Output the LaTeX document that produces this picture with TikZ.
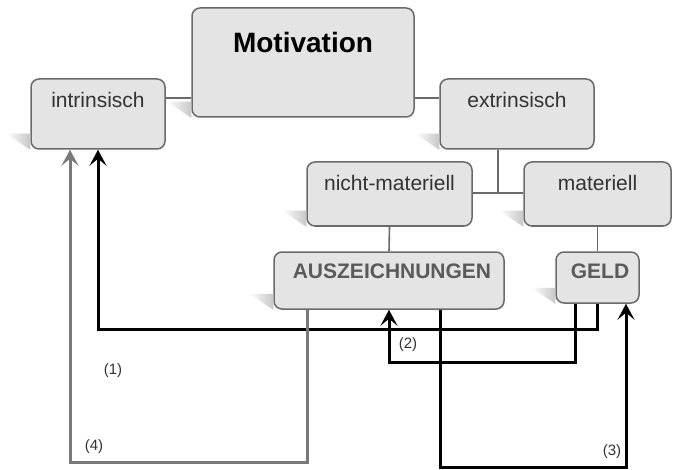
\documentclass[tikz,border=0pt]{standalone}
\usepackage{fontspec}
\setmainfont{Liberation Sans}
\usetikzlibrary{arrows.meta,calc}
\definecolor{boxfill}{HTML}{E4E4E4}
\definecolor{boxline}{HTML}{6A6A6A}
\definecolor{txtgray}{HTML}{333333}
\definecolor{capgray}{HTML}{5A5A5A}
\tikzset{
  box/.style={draw=boxline, line width=1.5pt, fill=boxfill, rounded corners=8pt, inner sep=0pt},
  txt/.style={inner sep=0pt, text=txtgray, font=\fontsize{21}{25}\selectfont},
  captxt/.style={inner sep=0pt, text=capgray, font=\fontsize{21}{25}\selectfont\bfseries},
  lbl/.style={inner sep=0pt, text=txtgray, font=\fontsize{15}{18}\selectfont},
  conn/.style={draw=boxline, line width=1.6pt},
  blk/.style={draw=black, line width=3pt, -{Stealth[length=16pt,width=17pt,inset=7pt]}},
  gry/.style={draw=boxline!90, line width=3pt, -{Stealth[length=16pt,width=17pt,inset=7pt]}},
  shadowwedge/.style={left color=white, right color=black!22, draw=none}
}
\newcommand{\wedgeat}[1]{%
  \shade[shadowwedge] ($(#1.south west)+(-24,-16)$) -- ($(#1.south west)+(0,-16)$) -- (#1.south west) -- cycle;}
\begin{document}
\begin{tikzpicture}[x=1pt,y=-1pt]
\useasboundingbox[fill=white] (0,0) rectangle (679,470);
% boxes
\node[box, minimum width=222pt, minimum height=109pt] (mot) at (303,62.5) {};
\node[box, minimum width=134pt, minimum height=70pt] (intr) at (98,114) {};
\node[box, minimum width=154pt, minimum height=70pt] (extr) at (517,114) {};
\node[box, minimum width=165pt, minimum height=64pt] (nm) at (389.5,194) {};
\node[box, minimum width=147pt, minimum height=64pt] (mat) at (597.5,194) {};
\node[box, minimum width=230pt, minimum height=57pt] (ausz) at (389,280.5) {};
\node[box, minimum width=83pt, minimum height=51pt] (geld) at (597.5,277.5) {};
% shadows
\begin{scope}[on background layer/.try]
\end{scope}
\wedgeat{mot}
\wedgeat{intr}
\wedgeat{extr}
\wedgeat{nm}
\wedgeat{mat}
\wedgeat{ausz}
\wedgeat{geld}
% texts
\node[inner sep=0pt, font=\fontsize{28}{32}\selectfont\bfseries] (tmot) at (303,42) {Motivation};
\node[txt] (tintr) at (98,100) {intrinsisch};
\node[txt] (textr) at (517,100) {extrinsisch};
\node[txt] (tnm) at (389.5,183) {nicht-materiell};
\node[txt] (tmat) at (597.5,183) {materiell};
\node[captxt] (tausz) at (392,271) {AUSZEICHNUNGEN};
\node[captxt] (tgeld) at (600,271) {GELD};
% tree connectors
\coordinate (lvlA) at (0,98);
\coordinate (xE) at (498,0);
\coordinate (lvlB) at (0,193);
\draw[conn] (intr.east |- lvlA) -- (mot.west |- lvlA);
\draw[conn] (mot.east |- lvlA) -- (extr.west |- lvlA);
\draw[conn] (xE |- extr.south) -- (xE |- lvlB);
\draw[conn] (nm.east |- lvlB) -- (mat.west |- lvlB);
\draw[conn] (nm.south) -- (ausz.north);
\draw[conn] (mat.south) -- (mat.south |- geld.north);
% arrows
\coordinate (x1) at (597,0);
\coordinate (x1b) at (98,0);
\coordinate (y1) at (0,329);
\draw[blk] (x1 |- geld.south) -- (x1 |- y1) -- (x1b |- y1) -- (x1b |- intr.south);
\coordinate (x2) at (575,0);
\coordinate (x2b) at (389,0);
\coordinate (y2) at (0,362);
\draw[blk] (x2 |- geld.south) -- (x2 |- y2) -- (x2b |- y2) -- (x2b |- ausz.south);
\coordinate (x3) at (440,0);
\coordinate (x3b) at (626,0);
\coordinate (y3) at (0,467.5);
\draw[blk] (x3 |- ausz.south) -- (x3 |- y3) -- (x3b |- y3) -- (x3b |- geld.south);
\coordinate (x4) at (307,0);
\coordinate (x4b) at (70,0);
\coordinate (y4) at (0,462);
\draw[gry] (x4 |- ausz.south) -- (x4 |- y4) -- (x4b |- y4) -- (x4b |- intr.south);
% labels
\node[lbl] (l1) at (113,371) {(1)};
\node[lbl] (l2) at (408,345) {(2)};
\node[lbl] (l3) at (612,452) {(3)};
\node[lbl] (l4) at (94,447) {(4)};
\end{tikzpicture}
\end{document}
